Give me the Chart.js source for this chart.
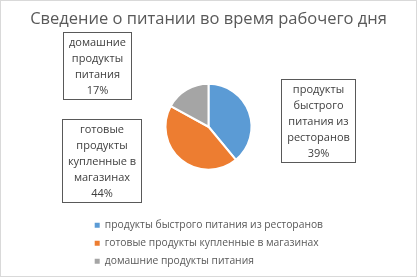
<!DOCTYPE html>
<html>
<head>
<meta charset="utf-8">
<script src="https://cdn.jsdelivr.net/npm/chart.js"></script>
<style>
  body { margin: 0; background: #fff; }
  #wrap { width: 417px; height: 277px; position: relative; }
</style>
</head>
<body>
<div id="wrap"><canvas id="pieChartCanva"></canvas></div>
<script>
// Data
var categories = [
    'продукты быстрого питания из ресторанов',
    'готовые продукты купленные в магазинах',
    'домашние продукты питания'
];
var shares = [39, 44, 17];

// Styles
var sliceColors = ['#5B9BD5', '#ED7D31', '#A5A5A5'];
var labelOffsets = [[69, 8], [-80, 1], [-90, -24]]; // box centre relative to slice edge
var fontFamily = "'Open Sans', 'Liberation Sans', sans-serif";

// Frame around the whole chart, and let title / legend use the full width
var framePlugin = {
    id: 'frame',
    afterLayout: function (chart) {
        chart.titleBlock.left = 0;
        chart.titleBlock.right = chart.width;
        chart.legend.right = chart.width;
    },
    beforeDraw: function (chart) {
        var c = chart.ctx;
        c.save();
        c.fillStyle = '#fff';
        c.fillRect(0, 0, chart.width, chart.height);
        c.strokeStyle = '#d9d9d9';
        c.lineWidth = 1;
        c.strokeRect(0.5, 0.5, chart.width - 1, chart.height - 1);
        c.restore();
    }
};

function wrapText(c, text, maxWidth) {
    var words = text.split(' ');
    var lines = [];
    var line = '';
    words.forEach(function (w) {
        var test = line ? line + ' ' + w : w;
        if (line && c.measureText(test).width > maxWidth) {
            lines.push(line);
            line = w;
        } else {
            line = test;
        }
    });
    if (line) lines.push(line);
    return lines;
}

// Data labels in bordered boxes
var boxLabelsPlugin = {
    id: 'boxLabels',
    afterDatasetsDraw: function (chart) {
        var c = chart.ctx;
        var meta = chart.getDatasetMeta(0);
        var values = chart.data.datasets[0].data;
        var total = values.reduce(function (a, b) { return a + b; }, 0);
        c.save();
        c.font = '11px ' + fontFamily;
        c.textAlign = 'center';
        c.textBaseline = 'middle';
        meta.data.forEach(function (arc, i) {
            var p = arc.getProps(['x', 'y', 'startAngle', 'endAngle', 'outerRadius'], true);
            var mid = (p.startAngle + p.endAngle) / 2;
            var ex = p.x + Math.cos(mid) * p.outerRadius;
            var ey = p.y + Math.sin(mid) * p.outerRadius;
            var cx = ex + labelOffsets[i][0];
            var cy = ey + labelOffsets[i][1];
            var lines = wrapText(c, chart.data.labels[i], 74);
            lines.push(Math.round(values[i] / total * 100) + '%');
            var w = 0;
            lines.forEach(function (l) { w = Math.max(w, c.measureText(l).width); });
            w = Math.round(w + 11);
            var lh = 16;
            var h = lines.length * lh + 3;
            var left = Math.round(cx - w / 2) + 0.5;
            var top = Math.round(cy - h / 2) + 0.5;
            c.fillStyle = '#fff';
            c.fillRect(left, top, w, h);
            c.strokeStyle = '#595959';
            c.lineWidth = 1;
            c.strokeRect(left, top, w, h);
            c.fillStyle = '#404040';
            lines.forEach(function (l, k) {
                c.fillText(l, left + w / 2, top + 2 + lh * k + lh / 2);
            });
        });
        c.restore();
    }
};

var ctx = document.getElementById('pieChartCanva').getContext('2d');

var chartData = {
    labels: categories,
    datasets: [{
        data: shares,
        backgroundColor: sliceColors,
        borderColor: '#fff',
        borderWidth: 2
    }]
};

var chartOptions = {
    responsive: true,
    maintainAspectRatio: false,
    animation: false,
    radius: 43,
    layout: {
        padding: { left: 87, right: 87, top: 0, bottom: 0.5 }
    },
    plugins: {
        title: {
            display: true,
            text: 'Сведение о питании во время рабочего дня',
            color: '#595959',
            font: { family: fontFamily, size: 16.5, weight: 'normal' },
            padding: { top: 9.6, bottom: 11.6 }
        },
        legend: {
            position: 'bottom',
            align: 'start',
            labels: {
                boxWidth: 5,
                boxHeight: 5,
                padding: 7.7,
                color: '#595959',
                font: { family: fontFamily, size: 10.3 },
                generateLabels: function (chart) {
                    return Chart.overrides.pie.plugins.legend.labels.generateLabels(chart)
                        .map(function (item) { item.lineWidth = 0; return item; });
                }
            }
        },
        tooltip: { enabled: false }
    }
};

var pieChart = new Chart(ctx, {
    type: 'pie',
    data: chartData,
    options: chartOptions,
    plugins: [framePlugin, boxLabelsPlugin]
});
</script>
</body>
</html>
